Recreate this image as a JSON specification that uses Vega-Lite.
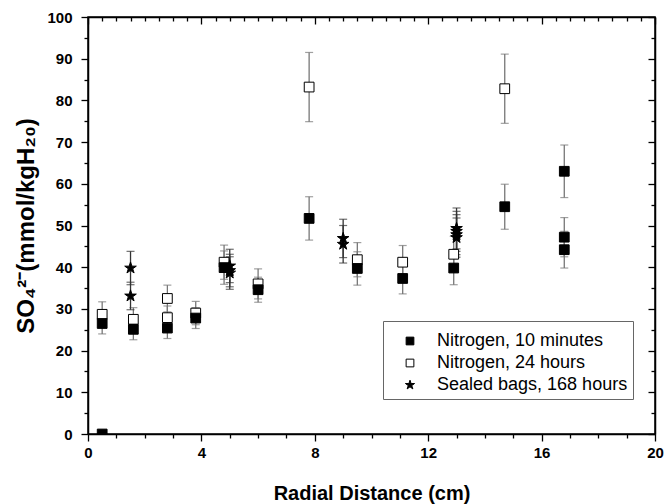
{
  "$schema": "https://vega.github.io/schema/vega-lite/v6.json",
  "width": 567,
  "height": 417,
  "autosize": {"type": "none"},
  "padding": {"left": 88, "top": 17, "right": 12, "bottom": 70},
  "background": "white",
  "config": {
    "font": "Liberation Sans",
    "view": {"stroke": "black", "strokeWidth": 1.5},
    "axis": {
      "grid": false,
      "domainColor": "black",
      "domainWidth": 1.5,
      "tickColor": "black",
      "tickWidth": 1.3,
      "labelColor": "black",
      "titleColor": "black",
      "labelFont": "Liberation Sans",
      "titleFont": "Liberation Sans",
      "labelFlush": false,
      "labelOverlap": false
    },
    "legend": {
      "orient": "none", "legendX": 295, "legendY": 304,
      "titleFontSize": 5, "titlePadding": 1,
      "fillColor": "white", "strokeColor": "#666666", "padding": 5,
      "labelFont": "Liberation Sans", "labelFontSize": 18, "labelColor": "black", "labelLimit": 0,
      "symbolSize": 60, "symbolStrokeColor": "black", "symbolStrokeWidth": 1,
      "symbolOffset": 13, "labelOffset": 18, "rowPadding": 4
    }
  },
  "data": {
    "values": [
      {"series": "Nitrogen, 24 hours", "x": 0.5, "y": 28.7, "err": 3.0},
      {"series": "Nitrogen, 24 hours", "x": 1.6, "y": 27.5, "err": 2.8},
      {"series": "Nitrogen, 24 hours", "x": 2.8, "y": 32.5, "err": 3.2},
      {"series": "Nitrogen, 24 hours", "x": 2.8, "y": 27.9, "err": 2.8},
      {"series": "Nitrogen, 24 hours", "x": 3.8, "y": 29.0, "err": 2.8},
      {"series": "Nitrogen, 24 hours", "x": 4.8, "y": 41.2, "err": 4.1},
      {"series": "Nitrogen, 24 hours", "x": 6.0, "y": 36.0, "err": 3.6},
      {"series": "Nitrogen, 24 hours", "x": 7.8, "y": 83.2, "err": 8.3},
      {"series": "Nitrogen, 24 hours", "x": 9.5, "y": 41.8, "err": 4.1},
      {"series": "Nitrogen, 24 hours", "x": 11.1, "y": 41.2, "err": 4.0},
      {"series": "Nitrogen, 24 hours", "x": 12.9, "y": 43.1, "err": 4.3},
      {"series": "Nitrogen, 24 hours", "x": 14.7, "y": 82.8, "err": 8.3},
      {"series": "Nitrogen, 10 minutes", "x": 0.5, "y": 0, "err": 0},
      {"series": "Nitrogen, 10 minutes", "x": 0.5, "y": 26.5, "err": 2.5},
      {"series": "Nitrogen, 10 minutes", "x": 1.6, "y": 25.1, "err": 2.5},
      {"series": "Nitrogen, 10 minutes", "x": 2.8, "y": 25.4, "err": 2.5},
      {"series": "Nitrogen, 10 minutes", "x": 3.8, "y": 27.8, "err": 2.5},
      {"series": "Nitrogen, 10 minutes", "x": 4.8, "y": 39.9, "err": 4.0},
      {"series": "Nitrogen, 10 minutes", "x": 6.0, "y": 34.6, "err": 3.0},
      {"series": "Nitrogen, 10 minutes", "x": 7.8, "y": 51.7, "err": 5.2},
      {"series": "Nitrogen, 10 minutes", "x": 9.5, "y": 39.7, "err": 4.0},
      {"series": "Nitrogen, 10 minutes", "x": 11.1, "y": 37.3, "err": 3.7},
      {"series": "Nitrogen, 10 minutes", "x": 12.9, "y": 39.8, "err": 4.0},
      {"series": "Nitrogen, 10 minutes", "x": 14.7, "y": 54.5, "err": 5.4},
      {"series": "Nitrogen, 10 minutes", "x": 16.8, "y": 63.0, "err": 6.3},
      {"series": "Nitrogen, 10 minutes", "x": 16.8, "y": 47.2, "err": 4.7},
      {"series": "Nitrogen, 10 minutes", "x": 16.8, "y": 44.2, "err": 4.4},
      {"series": "Sealed bags, 168 hours", "x": 1.5, "y": 39.8, "err": 4.0},
      {"series": "Sealed bags, 168 hours", "x": 1.5, "y": 33.1, "err": 3.3},
      {"series": "Sealed bags, 168 hours", "x": 5.0, "y": 40.3, "err": 4.0},
      {"series": "Sealed bags, 168 hours", "x": 5.0, "y": 39.2, "err": 3.9},
      {"series": "Sealed bags, 168 hours", "x": 5.0, "y": 38.6, "err": 3.9},
      {"series": "Sealed bags, 168 hours", "x": 9.0, "y": 46.9, "err": 4.6},
      {"series": "Sealed bags, 168 hours", "x": 9.0, "y": 45.5, "err": 4.5},
      {"series": "Sealed bags, 168 hours", "x": 13.0, "y": 49.3, "err": 4.9},
      {"series": "Sealed bags, 168 hours", "x": 13.0, "y": 48.6, "err": 4.8},
      {"series": "Sealed bags, 168 hours", "x": 13.0, "y": 47.8, "err": 4.8},
      {"series": "Sealed bags, 168 hours", "x": 13.0, "y": 47.1, "err": 4.7}
    ]
  },
  "layer": [
    {
      "transform": [{"filter": "datum.err > 0 && datum.series != 'Sealed bags, 168 hours'"}],
      "mark": {"type": "errorbar", "ticks": {"size": 8, "thickness": 1.2}, "thickness": 1.3, "color": "#777777"},
      "encoding": {
        "x": {
          "field": "x", "type": "quantitative",
          "scale": {"domain": [0, 20], "nice": false, "zero": false},
          "axis": {
            "orient": "bottom",
            "values": [0, 0.5, 1, 1.5, 2, 2.5, 3, 3.5, 4, 4.5, 5, 5.5, 6, 6.5, 7, 7.5, 8, 8.5, 9, 9.5, 10, 10.5, 11, 11.5, 12, 12.5, 13, 13.5, 14, 14.5, 15, 15.5, 16, 16.5, 17, 17.5, 18, 18.5, 19, 19.5, 20],
            "format": "d",
            "tickSize": {"condition": {"test": "datum.value % 4 === 0", "value": 7}, "value": 4},
            "labelExpr": "datum.value % 4 === 0 ? datum.label : ''",
            "labelFontSize": 15, "labelFontWeight": "bold", "labelPadding": 4,
            "title": "Radial Distance (cm)", "titleFontSize": 20, "titleFontWeight": "bold", "titlePadding": 23
          }
        },
        "y": {
          "field": "y", "type": "quantitative",
          "scale": {"domain": [0, 100], "nice": false},
          "axis": {
            "orient": "left",
            "values": [0, 5, 10, 15, 20, 25, 30, 35, 40, 45, 50, 55, 60, 65, 70, 75, 80, 85, 90, 95, 100],
            "format": "d",
            "tickSize": {"condition": {"test": "datum.value % 10 === 0", "value": 7}, "value": 4},
            "labelExpr": "datum.value % 10 === 0 ? datum.label : ''",
            "labelFontSize": 15, "labelFontWeight": "bold", "labelPadding": 9,
            "title": "SO₄²⁻(mmol/kgH₂₀)", "titleFontSize": 24, "titleFontWeight": "bold", "titlePadding": 8
          }
        },
        "yError": {"field": "err"}
      }
    },
    {
      "transform": [{"filter": "datum.series == 'Sealed bags, 168 hours'"}],
      "mark": {"type": "errorbar", "ticks": {"size": 8, "thickness": 1.2}, "thickness": 1.3, "color": "#333333"},
      "encoding": {
        "x": {"field": "x", "type": "quantitative", "scale": {"domain": [0, 20], "nice": false, "zero": false}, "axis": null},
        "y": {"field": "y", "type": "quantitative", "scale": {"domain": [0, 100], "nice": false}, "axis": null},
        "yError": {"field": "err"}
      }
    },
    {
      "mark": {"type": "point", "filled": true, "opacity": 1, "size": 95, "strokeWidth": 1, "clip": true},
      "encoding": {
        "x": {
          "field": "x", "type": "quantitative",
          "scale": {"domain": [0, 20], "nice": false, "zero": false},
          "axis": {
            "orient": "top",
            "values": [0, 0.5, 1, 1.5, 2, 2.5, 3, 3.5, 4, 4.5, 5, 5.5, 6, 6.5, 7, 7.5, 8, 8.5, 9, 9.5, 10, 10.5, 11, 11.5, 12, 12.5, 13, 13.5, 14, 14.5, 15, 15.5, 16, 16.5, 17, 17.5, 18, 18.5, 19, 19.5, 20],
            "tickSize": {"condition": {"test": "datum.value % 4 === 0", "value": -7}, "value": -4},
            "labels": false, "title": null
          }
        },
        "y": {
          "field": "y", "type": "quantitative",
          "scale": {"domain": [0, 100], "nice": false},
          "axis": {
            "orient": "right",
            "values": [0, 5, 10, 15, 20, 25, 30, 35, 40, 45, 50, 55, 60, 65, 70, 75, 80, 85, 90, 95, 100],
            "tickSize": {"condition": {"test": "datum.value % 10 === 0", "value": -7}, "value": -4},
            "labels": false, "title": null
          }
        },
        "shape": {
          "field": "series", "type": "nominal", "title": " ",
          "scale": {
            "domain": ["Nitrogen, 10 minutes", "Nitrogen, 24 hours", "Sealed bags, 168 hours"],
            "range": ["square", "square", "M0,-1.25L0.2806,-0.386L1.189,-0.386L0.4541,0.1475L0.735,1.011L0,0.4775L-0.735,1.011L-0.4541,0.1475L-1.189,-0.386L-0.2806,-0.386Z"]
          }
        },
        "fill": {
          "field": "series", "type": "nominal", "title": " ",
          "scale": {"domain": ["Nitrogen, 10 minutes", "Nitrogen, 24 hours", "Sealed bags, 168 hours"], "range": ["black", "white", "black"]}
        },
        "stroke": {
          "field": "series", "type": "nominal", "title": " ",
          "scale": {"domain": ["Nitrogen, 10 minutes", "Nitrogen, 24 hours", "Sealed bags, 168 hours"], "range": ["black", "black", "black"]}
        }
      }
    }
  ],
  "resolve": {"axis": {"x": "independent", "y": "independent"}}
}
